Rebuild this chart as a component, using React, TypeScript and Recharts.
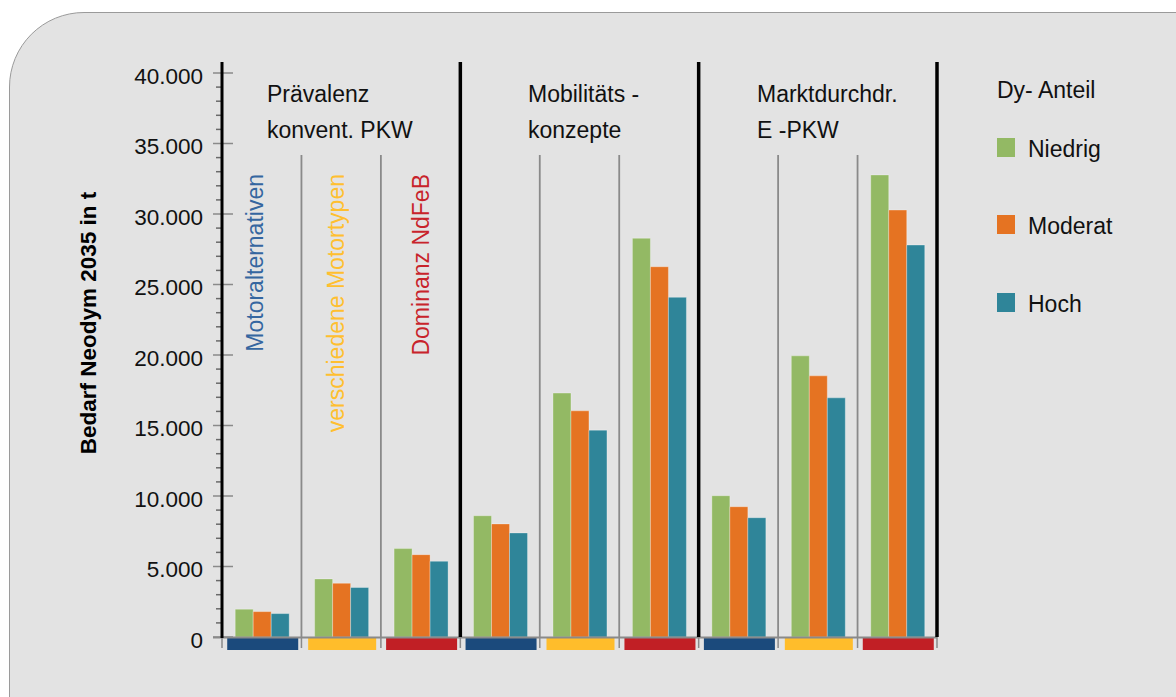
import React from "react";
import { BarChart, Bar, XAxis, YAxis } from "recharts";

// Bedarf Neodym 2035 (t) je Szenario und Dy-Anteil
const SECTIONS = [
  ["Prävalenz", "konvent. PKW"],
  ["Mobilitäts -", "konzepte"],
  ["Marktdurchdr.", "E -PKW"],
];
const SCENARIOS = ["Motoralternativen", "verschiedene Motortypen", "Dominanz NdFeB"];

const NIEDRIG = [1970, 4120, 6270, 8600, 17300, 28280, 10020, 19940, 32770];
const MODERAT = [1800, 3810, 5840, 8020, 16040, 26260, 9240, 18520, 30280];
const HOCH = [1660, 3510, 5370, 7380, 14670, 24090, 8460, 16960, 27800];

const SERIES = [
  { key: "niedrig", name: "Niedrig", color: "#93b964" },
  { key: "moderat", name: "Moderat", color: "#e57322" },
  { key: "hoch", name: "Hoch", color: "#2f8599" },
];

const Y_MAJOR = [0, 5000, 10000, 15000, 20000, 25000, 30000, 35000, 40000];
const Y_MINOR_STEP = 1000;

const SCENARIO_TEXT = ["#3566a0", "#ffbf2f", "#c8232b"];
const SCENARIO_BAND = ["#1b4a7c", "#ffbd2b", "#c11f25"];

const data = NIEDRIG.map((v, i) => ({
  name: `${SECTIONS[Math.floor(i / 3)].join(" ")} – ${SCENARIOS[i % 3]}`,
  scenario: i % 3,
  niedrig: v,
  moderat: MODERAT[i],
  hoch: HOCH[i],
}));

const yTicks: number[] = [];
for (let v = 0; v <= Y_MAJOR[Y_MAJOR.length - 1]; v += Y_MINOR_STEP) yTicks.push(v);

const W = 1176;
const H = 697;
const PLOT_LEFT = 222;
const PLOT_RIGHT = 937;
const PLOT_TOP = 73;
const PLOT_BOTTOM = 637;
const Y_AXIS_W = 100;
const X_AXIS_H = 30;
const FONT = "'Liberation Sans', Arial, sans-serif";

const fmt = (v: number) => String(v).replace(/\B(?=(\d{3})+(?!\d))/g, ".");

function YTick(props: any) {
  const { y, payload } = props;
  const v = payload.value as number;
  const major = v % 5000 === 0;
  if (!major) {
    return <line x1={216} x2={222} y1={y} y2={y} stroke="#6a6a6a" strokeWidth={1.5} />;
  }
  return (
    <g>
      <line x1={213} x2={233} y1={y} y2={y} stroke="#8a8a8a" strokeWidth={1.5} />
      <text x={203} y={y + 10.5} textAnchor="end" fontSize={22.5} fontFamily={FONT} fill="#111">
        {fmt(v)}
      </text>
    </g>
  );
}

function XTick(props: any) {
  const { x, index } = props;
  const s = data[index]?.scenario ?? 0;
  const w = s === 1 ? 68 : 71;
  return <rect x={x + 1 - w / 2} y={638} width={w} height={12} fill={SCENARIO_BAND[s]} />;
}

function Overlay() {
  const band = (PLOT_RIGHT - PLOT_LEFT) / data.length;
  const bounds = Array.from({ length: data.length + 1 }, (_, i) => PLOT_LEFT + i * band);
  const sectionX = [267, 528, 757];
  const rotX = [263, 344, 429];
  const legendY = [138, 215, 293];
  return (
    <svg
      width={W}
      height={H}
      style={{ position: "absolute", left: 0, top: 0, pointerEvents: "none" }}
      fontFamily={FONT}
    >
      {/* axes */}
      <line x1={213} x2={PLOT_RIGHT} y1={PLOT_BOTTOM + 0.5} y2={PLOT_BOTTOM + 0.5} stroke="#8a8a8a" strokeWidth={2} />
      {bounds.map((bx, i) => (
        <line key={`t${i}`} x1={bx} x2={bx} y1={PLOT_BOTTOM} y2={648} stroke="#8a8a8a" strokeWidth={1.5} />
      ))}
      {bounds.slice(1).map((bx, i) =>
        (i + 1) % 3 === 0 ? (
          <line key={`s${i}`} x1={bx} x2={bx} y1={62} y2={PLOT_BOTTOM} stroke="#000" strokeWidth={3.5} />
        ) : (
          <line key={`s${i}`} x1={bx} x2={bx} y1={155} y2={PLOT_BOTTOM} stroke="#8a8a8a" strokeWidth={1.8} />
        )
      )}
      <line x1={PLOT_LEFT} x2={PLOT_LEFT} y1={62} y2={PLOT_BOTTOM + 1} stroke="#000" strokeWidth={3} />

      {/* section labels */}
      {SECTIONS.map((lines, i) => (
        <g key={`sec${i}`} fontSize={23} fill="#111">
          <text x={sectionX[i]} y={101.5}>{lines[0]}</text>
          <text x={sectionX[i]} y={137.5}>{lines[1]}</text>
        </g>
      ))}

      {/* scenario labels */}
      {SCENARIOS.map((s, i) => (
        <text
          key={`sc${i}`}
          x={rotX[i]}
          y={174}
          transform={`rotate(-90, ${rotX[i]}, 174)`}
          textAnchor="end"
          fontSize={23}
          fill={SCENARIO_TEXT[i]}
        >
          {s}
        </text>
      ))}

      {/* y axis title */}
      <text
        x={96}
        y={323}
        transform="rotate(-90, 96, 323)"
        textAnchor="middle"
        fontSize={22.5}
        fontWeight="bold"
        fill="#000"
      >
        Bedarf Neodym 2035 in t
      </text>

      {/* legend */}
      <text x={997} y={97.5} fontSize={23} fill="#111">Dy- Anteil</text>
      {SERIES.map((s, i) => (
        <g key={s.key}>
          <rect x={997} y={legendY[i]} width={18} height={19} fill={s.color} />
          <text x={1028} y={legendY[i] + 19} fontSize={23} fill="#111">{s.name}</text>
        </g>
      ))}
    </svg>
  );
}

export default function App() {
  return (
    <div
      style={{
        position: "absolute",
        left: 0,
        top: 0,
        width: W,
        height: H,
        overflow: "hidden",
        background: "#fff",
        fontFamily: FONT,
      }}
    >
      <div
        style={{
          position: "absolute",
          left: 9,
          top: 12,
          width: 1220,
          height: 740,
          background: "#e3e3e3",
          border: "1.5px solid #9a9a9a",
          borderTopLeftRadius: 75,
        }}
      />
      <div style={{ position: "absolute", left: 0, top: 0 }}>
        <BarChart
          width={W}
          height={H}
          data={data}
          margin={{
            top: PLOT_TOP,
            right: W - PLOT_RIGHT,
            bottom: H - PLOT_BOTTOM - X_AXIS_H,
            left: PLOT_LEFT - Y_AXIS_W,
          }}
          barCategoryGap="16.6%"
          barGap={0}
        >
          <XAxis
            dataKey="name"
            height={X_AXIS_H}
            axisLine={false}
            tickLine={false}
            interval={0}
            tick={<XTick />}
          />
          <YAxis
            width={Y_AXIS_W}
            domain={[0, 40000]}
            ticks={yTicks}
            interval={0}
            axisLine={false}
            tickLine={false}
            tick={<YTick />}
            allowDataOverflow
          />
          {SERIES.map((s) => (
            <Bar
              key={s.key}
              dataKey={s.key}
              name={s.name}
              fill={s.color}
              stroke="rgba(255,255,255,0.3)"
              strokeWidth={1}
              isAnimationActive={false}
            />
          ))}
        </BarChart>
      </div>
      <Overlay />
    </div>
  );
}
